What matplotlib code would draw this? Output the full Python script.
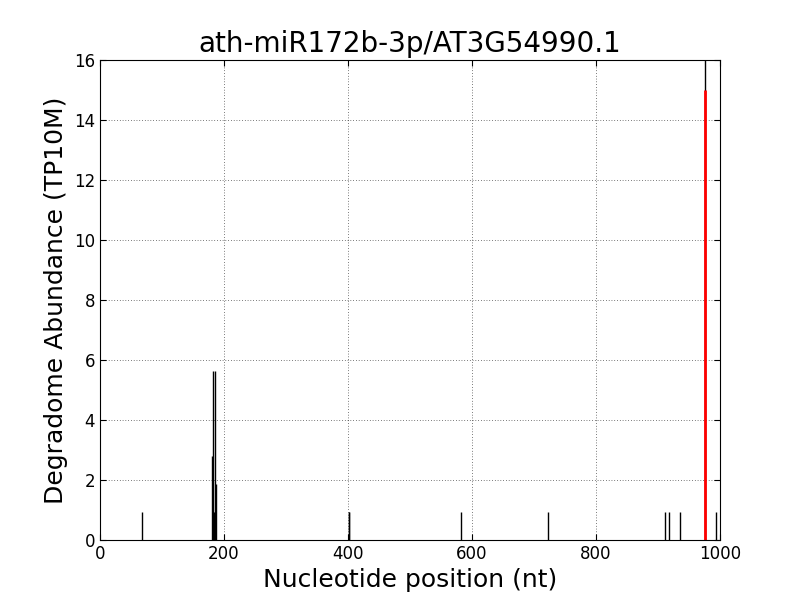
import matplotlib
matplotlib.use("Agg")
import matplotlib.pyplot as plt

# degradome reads along the transcript (TP10M)
positions = [68, 181, 182, 184, 185, 186, 187, 401, 402, 582, 722, 911, 918, 935, 975, 994]
abundance = [0.94, 2.81, 5.63, 0.94, 5.63, 0.94, 1.88, 0.94, 0.94, 0.94, 0.94, 0.94, 0.94, 0.94, 16.88, 0.94]

# predicted cleavage site
cleave_pos = [975]
cleave_val = [15.0]

title = "ath-miR172b-3p/AT3G54990.1"

fig = plt.figure(figsize=(8, 6), dpi=100)
ax = fig.add_axes([0.125, 0.1, 0.775, 0.8])

ax.vlines(positions, 0, abundance, colors="black", linewidth=1)
ax.vlines(cleave_pos, 0, cleave_val, colors="red", linewidth=2)

ax.set_xlim(0, 1000)
ax.set_ylim(0, 16)
ax.set_xticks(range(0, 1001, 200))
ax.set_yticks(range(0, 17, 2))
ax.grid(True, color="black", linestyle=(0, (1, 3)), linewidth=0.5)
ax.tick_params(direction="in", top=True, right=True, labelsize=12, length=4)

ax.set_title(title, fontsize=20)
ax.set_xlabel("Nucleotide position (nt)", fontsize=18)
ax.set_ylabel("Degradome Abundance (TP10M)", fontsize=18)

fig.savefig("out.png", dpi=100, facecolor="white")
